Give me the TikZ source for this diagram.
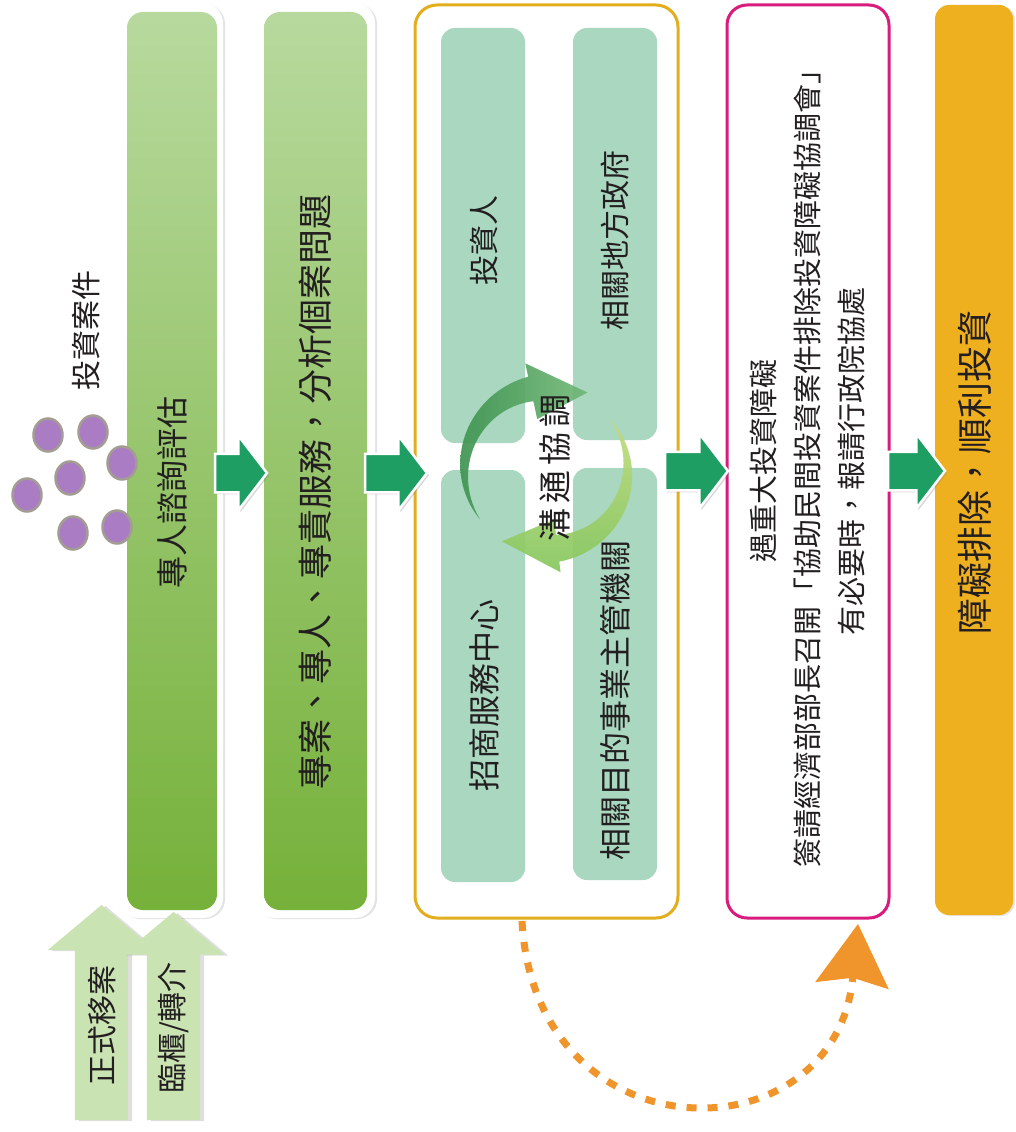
\documentclass[tikz,border=0pt]{standalone}
\usepackage{fontspec}
\newfontfamily\cjk{Noto Sans CJK TC}
\usetikzlibrary{shapes.geometric,shapes.arrows,shadows,arrows.meta}
\definecolor{gtop}{HTML}{B8D99E}
\definecolor{gbot}{HTML}{76B13A}
\definecolor{teal}{HTML}{A9D7C0}
\definecolor{ybord}{HTML}{E3AE1E}
\definecolor{pinkc}{HTML}{D81B7C}
\definecolor{finaly}{HTML}{EFB020}
\definecolor{blockg}{HTML}{1E9E62}
\definecolor{lgreen}{HTML}{C9E3B2}
\definecolor{purp}{HTML}{A97CC4}
\definecolor{dotb}{HTML}{A39C94}
\definecolor{orangec}{HTML}{F0952B}
\definecolor{txt}{HTML}{231F20}
\definecolor{cdark}{HTML}{3F9452}
\definecolor{cmid}{HTML}{72B877}
\definecolor{clight}{HTML}{C3DC7E}
\definecolor{clight2}{HTML}{86C75E}
\begin{document}
\begin{tikzpicture}[x=1pt,y=-1pt,
  every node/.style={inner sep=0pt, outer sep=0pt},
  whitebox/.style={fill=white, rounded corners=20pt, drop shadow={shadow xshift=2pt, shadow yshift=-1pt, opacity=0.22}},
  greenbox/.style={rounded corners=16pt, top color=gtop, bottom color=gbot},
  tealbox/.style={fill=teal, rounded corners=14pt, minimum width=84pt},
  lbl/.style={rotate=90, text=txt, align=center, font=\cjk\fontsize{#1}{44}\selectfont},
  blockarrow/.style={single arrow, fill=blockg, draw=white, line width=2.5pt, inner xsep=0pt, inner ysep=18pt,
     single arrow head extend=18pt, single arrow tip angle=105, minimum height=#1, anchor=tip,
     drop shadow={shadow xshift=2pt, shadow yshift=-2pt, opacity=0.3}},
  uparrow/.style={single arrow, rotate=90, fill=lgreen, inner xsep=0pt, inner ysep=26.5pt,
     single arrow tip angle=100, anchor=tip,
     drop shadow={shadow xshift=4pt, shadow yshift=-1pt, opacity=0.25}},
  dot/.style={ellipse, fill=purp, draw=dotb, line width=2.5pt, minimum width=29pt, minimum height=33pt}
]
\useasboundingbox[fill=white] (0,0) rectangle (1015,1132);

% column 1 and 2
\node[whitebox, minimum width=105pt, minimum height=915pt] (w1) at (170.5,460.5) {};
\node[greenbox, minimum width=90pt, minimum height=898pt] (b1) at (172,461) {};
\node[whitebox, minimum width=120pt, minimum height=915pt] (w2) at (315,460.5) {};
\node[greenbox, minimum width=103pt, minimum height=898pt] (b2) at (315.5,461) {};
\node[lbl=32] (t1) at (172,492) {專人諮詢評估};
\node[lbl=35] (t2) at (315,492) {專案、專人、專責服務，分析個案問題};

% column 3
\node[draw=ybord, line width=3pt, fill=white, rounded corners=22pt, minimum width=263pt, minimum height=913pt] (yb) at (546.5,461.5) {};
\node[tealbox, minimum height=415pt] (tl) at (483,235.5) {};
\node[tealbox, minimum height=412pt] (tr) at (615,234) {};
\node[tealbox, minimum height=412pt] (bl) at (483,676) {};
\node[tealbox, minimum height=412pt] (br) at (615,674) {};
\node[lbl=30] (ttl) at (484,240) {投資人};
\node[lbl=30] (ttr) at (615,240) {相關地方政府};
\node[lbl=32] (tbl) at (484,695) {招商服務中心};
\node[lbl=32] (tbr) at (615,700) {相關目的事業主管機關};

% circular arrows
\shade[left color=cdark, right color=cmid, opacity=0.92]
  plot[domain=144:258, samples=40] ({548+(84+0.10*(\x-144))*cos(\x)}, {470+(84+0.10*(\x-144))*sin(\x)})
  -- ({548+109*cos(258)},{470+109*sin(258)})
  -- ({548+87*cos(297)},{470+87*sin(297)})
  -- ({548+52*cos(258)},{470+52*sin(258)})
  -- plot[domain=258:144, samples=40] ({548+(84-0.12*(\x-144))*cos(\x)}, {470+(84-0.12*(\x-144))*sin(\x)})
  -- cycle;
\shade[top color=clight, bottom color=clight2, opacity=0.92]
  plot[domain=-40:83, samples=40] ({548+(80+0.10*(\x+40))*cos(\x)}, {470+(80+0.10*(\x+40))*sin(\x)})
  -- ({548+103*cos(83)},{470+103*sin(83)})
  -- ({548+85*cos(123)},{470+85*sin(123)})
  -- ({548+50*cos(83)},{470+50*sin(83)})
  -- plot[domain=83:-40, samples=40] ({548+(80-0.12*(\x+40))*cos(\x)}, {470+(80-0.12*(\x+40))*sin(\x)})
  -- cycle;
\node[lbl=33] (comm) at (555,468) {溝\kern5pt通\kern5pt協\kern5pt調};

% column 4
\node[draw=pinkc, line width=3pt, fill=white, rounded corners=20pt, minimum width=162pt, minimum height=913pt] (pb) at (808,461.5) {};
\node[lbl=29] (pt) at (808,461) {遇重大投資障礙\\簽請經濟部部長召開「協助民間投資案件排除投資障礙協調會」\\有必要時，報請行政院協處};

% column 5
\node[fill=finaly, rounded corners=14pt, minimum width=78pt, minimum height=910pt,
  drop shadow={shadow xshift=2pt, shadow yshift=-1pt, opacity=0.2}] (fb) at (974,460) {};
\node[lbl=36] (ft) at (975,472) {障礙排除，順利投資};

% block arrows
\node[blockarrow=52pt] (a1) at (267,473) {};
\node[blockarrow=62pt] (a2) at (427,473) {};
\node[blockarrow=63pt] (a3) at (728,471) {};
\node[blockarrow=57pt] (a4) at (945,471) {};

% investment cases dots
\node[lbl=30] (case) at (86,330) {投資案件};
\node[dot] (d1) at (48,435) {};
\node[dot] (d2) at (93,432) {};
\node[dot] (d3) at (122,463) {};
\node[dot] (d4) at (70,478) {};
\node[dot] (d5) at (27,495) {};
\node[dot] (d6) at (73,533) {};
\node[dot] (d7) at (117,527) {};

% up arrows
\node[uparrow, minimum height=215pt, single arrow head extend=27pt] (u1) at (101.5,905) {};
\node[uparrow, minimum height=208pt, single arrow head extend=24pt] (u2) at (173.5,912) {};
\node[lbl=30] (ut1) at (102,1025) {正式移案};
\node[lbl=30] (ut2) at (173,1028) {臨櫃/轉介};

% orange dashed feedback arrow
\coordinate (ostart) at (522,921);
\coordinate (oend) at (858,924);
\draw[orangec, line width=7pt, dash pattern=on 10pt off 11pt,
  -{Stealth[length=62pt, width=74pt, inset=8pt, line width=0pt]}]
  (ostart) .. controls (535,1160) and (835,1160) .. (oend);
\end{tikzpicture}
\end{document}
